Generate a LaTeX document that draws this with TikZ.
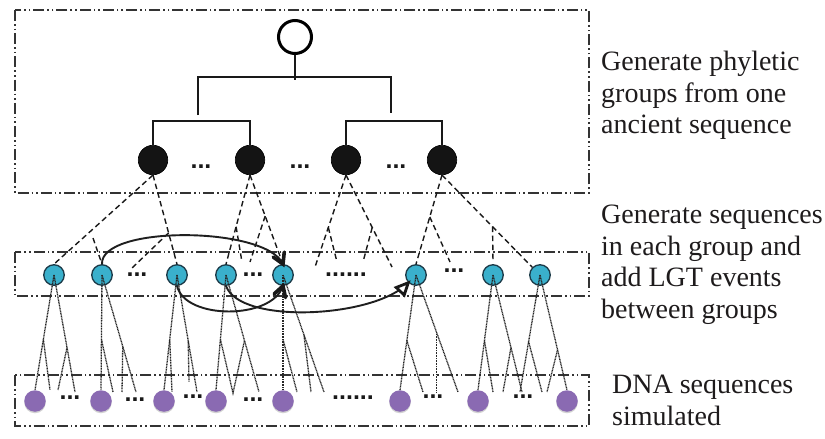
\documentclass[tikz,border=0pt]{standalone}
\usepackage{fontspec}
\setmainfont{Liberation Serif}
\newfontfamily\dotfont{Liberation Sans}
\usetikzlibrary{calc,shadows}
\definecolor{cyanball}{RGB}{58,176,204}
\definecolor{cyanedge}{RGB}{28,58,72}
\definecolor{purpleball}{RGB}{138,106,178}
\definecolor{inkgray}{RGB}{30,27,28}
\begin{document}
\begin{tikzpicture}[x=1pt,y=-1pt,
  frame/.style={draw=black!80,line width=1.5pt,
    dash pattern=on 11pt off 3pt on 1.6pt off 3pt on 1.6pt off 3pt},
  rootball/.style={circle,draw=black,line width=3pt,minimum size=33pt,inner sep=0pt},
  blackball/.style={circle,fill=black!92,draw=black,line width=0.6pt,minimum size=29.5pt,inner sep=0pt},
  seqball/.style={circle,fill=cyanball,draw=cyanedge,line width=1.3pt,minimum size=20.5pt,inner sep=0pt},
  dnaball/.style={circle,fill=purpleball,minimum size=21.5pt,inner sep=0pt,
    drop shadow={opacity=0.35,shadow xshift=0pt,shadow yshift=-1.5pt}},
  treeline/.style={line width=1.4pt,draw=black!90},
  groupline/.style={line width=1.4pt,draw=black!90,dash pattern=on 5.5pt off 3.5pt},
  seqline/.style={line width=1.3pt,draw=black!85,dash pattern=on 1pt off 0.6pt},
  lgt/.style={line width=1.9pt,draw=black!88},
  barbstroke/.style={line width=3.6pt,line cap=round,line join=miter,draw=black!90},
  openstroke/.style={line width=2.8pt,line join=miter,draw=black!90,fill=white},
  ellipsisdots/.style={font=\dotfont\bfseries\fontsize{25}{25}\selectfont,inner sep=0pt,text=black!90},
  caption/.style={font=\fontsize{28}{31.5}\selectfont,text=inkgray,inner sep=0pt,anchor=base west}
]
\fill[white] (0,0) rectangle (825,439);

% stage frames
\draw[frame] (15,10) rectangle (589,193);
\draw[frame] (15,252) rectangle (589,296);
\draw[frame] (15,375) rectangle (589,426);

% ancient sequence and phyletic groups
\node[rootball] (root) at (295,37) {};
\node[blackball] (g1) at (153,160) {};
\node[blackball] (g2) at (250,160) {};
\node[blackball] (g3) at (346,160) {};
\node[blackball] (g4) at (442,160) {};

\coordinate (rootjoin) at (295,80);
\coordinate (hl) at (198,77);
\coordinate (hr) at (391,77);
\coordinate (vl) at (198,115);
\coordinate (vr) at (391,113);
\draw[treeline] (root.south) -- (rootjoin);
\draw[treeline] (vl) -- (hl) -- (hr) -- (vr);
\draw[treeline] (g1.north) -- ++(0,-24) -| (g2.north);
\draw[treeline] (g3.north) -- ++(0,-24) -| (g4.north);

\node[ellipsisdots] (d1) at (201,167) {...};
\node[ellipsisdots] (d2) at (300,167) {...};
\node[ellipsisdots] (d3) at (396,167) {...};

% sequences within groups
\node[seqball] (c1) at (54,275) {};
\node[seqball] (c2) at (102,275) {};
\node[seqball] (c3) at (177,275) {};
\node[seqball] (c4) at (226,275) {};
\node[seqball] (c5) at (283,275) {};
\node[seqball] (c6) at (416,275) {};
\node[seqball] (c7) at (493,275) {};
\node[seqball] (c8) at (540,275) {};

\node[ellipsisdots] (m1) at (137,275) {...};
\node[ellipsisdots] (m2) at (253,275) {...};
\node[ellipsisdots] (m3) at (346,275) {......};
\node[ellipsisdots] (m4) at (454,271) {...};

% group subtrees (dashed)
\coordinate (a1) at (130,270);
\coordinate (a2) at (93,238);
\coordinate (a3) at (242,262);
\coordinate (a4) at (250,262);
\coordinate (a5) at (315,267);
\coordinate (a6) at (392,267);
\coordinate (a7) at (337,262);
\coordinate (a8) at (363,262);
\coordinate (a9) at (450,262);
\coordinate (a10) at (493,262);
\draw[groupline] (g1.south) -- (c1.north);
\draw[groupline] (g1.south) -- (c3.north);
\draw[groupline] ($(g1.south)!0.65!(c3.north)$) -- (a1);
\draw[groupline] (a2) -- (c2.north);
\draw[groupline] (g2.south) -- (c4.north);
\draw[groupline] (g2.south) -- (c5.north);
\draw[groupline] ($(g2.south)!0.58!(c4.north)$) -- (a3);
\draw[groupline] ($(g2.south)!0.46!(c5.north)$) -- (a4);
\draw[groupline] (g3.south) -- (a5);
\draw[groupline] (g3.south) -- (a6);
\draw[groupline] ($(g3.south)!0.57!(a5)$) -- (a7);
\draw[groupline] ($(g3.south)!0.57!(a6)$) -- (a8);
\draw[groupline] (g4.south) -- (c6.north);
\draw[groupline] (g4.south) -- (c8.north west);
\draw[groupline] ($(g4.south)!0.47!(c6.north)$) -- (a9);
\draw[groupline] ($(g4.south)!0.56!(c8.north west)$) -- (a10);

% simulated DNA sequences
\node[dnaball] (p1) at (35,401) {};
\node[dnaball] (p2) at (101,401) {};
\node[dnaball] (p3) at (164,401) {};
\node[dnaball] (p4) at (216,401) {};
\node[dnaball] (p5) at (283,401) {};
\node[dnaball] (p6) at (400,401) {};
\node[dnaball] (p7) at (478,401) {};
\node[dnaball] (p8) at (567,401) {};

\node[ellipsisdots] (b1) at (70,398) {...};
\node[ellipsisdots] (b2) at (135,400) {...};
\node[ellipsisdots] (b3) at (193,397) {...};
\node[ellipsisdots] (b4) at (253,400) {...};
\node[ellipsisdots] (b5) at (353,398) {......};
\node[ellipsisdots] (b6) at (433,397) {...};
\node[ellipsisdots] (b7) at (523,397) {...};

% sequence subtrees (dotted)
\coordinate (e1) at (75,392);   \coordinate (e2) at (50,390);   \coordinate (e3) at (58,390);
\draw[seqline] (c1.center) -- (p1.north);
\draw[seqline] (c1.center) -- (e1);
\draw[seqline] ($(c1.center)!0.56!(p1.north)$) -- (e2);
\draw[seqline] ($(c1.center)!0.62!(e1)$) -- (e3);

\coordinate (e4) at (136,392);  \coordinate (e5) at (113,392);  \coordinate (e6) at (122,392);
\draw[seqline] (c2.center) -- (p2.north);
\draw[seqline] (c2.center) -- (e4);
\draw[seqline] ($(c2.center)!0.56!(p2.north)$) -- (e5);
\draw[seqline] ($(c2.center)!0.61!(e4)$) -- (e6);

\coordinate (e7) at (197,392);  \coordinate (e8) at (172,392);  \coordinate (e9) at (189,382);
\draw[seqline] (c3.center) -- (p3.north);
\draw[seqline] (c3.center) -- (e7);
\draw[seqline] ($(c3.center)!0.56!(p3.north)$) -- (e8);
\draw[seqline] ($(c3.center)!0.56!(e7)$) -- (e9);

\coordinate (e10) at (259,392); \coordinate (e11) at (233,393);
\draw[seqline] (c4.center) -- (p4.north);
\draw[seqline] (c4.center) -- (e10);
\draw[seqline] ($(c4.center)!0.56!(p4.north)$) -- (e11) -- ($(c4.center)!0.56!(e10)$);

\coordinate (e12) at (324,392); \coordinate (e13) at (297,392); \coordinate (e14) at (311,392);
\draw[seqline] (c5.center) -- (p5.north);
\draw[seqline] (c5.center) -- (e12);
\draw[seqline] ($(c5.center)!0.56!(p5.north)$) -- (e13);
\draw[seqline] ($(c5.center)!0.51!(e12)$) -- (e14);

\coordinate (e15) at (458,392); \coordinate (e16) at (423,392);
\draw[seqline] (c6.center) -- (p6.north);
\draw[seqline] (c6.center) -- (e15);
\draw[seqline] ($(c6.center)!0.57!(p6.north)$) -- (e16);
\draw[seqline] ($(c6.center)!0.49!(e15)$) -- ++(0,60);

\coordinate (e17) at (522,392); \coordinate (e18) at (493,392); \coordinate (e19) at (503,392);
\draw[seqline] (c7.center) -- (p7.north);
\draw[seqline] (c7.center) -- (e17);
\draw[seqline] ($(c7.center)!0.57!(p7.north)$) -- (e18);
\draw[seqline] ($(c7.center)!0.62!(e17)$) -- (e19);

\coordinate (e20) at (520,392); \coordinate (e21) at (542,392); \coordinate (e22) at (547,392);
\draw[seqline] (c8.center) -- (e20);
\draw[seqline] (c8.center) -- (p8.north);
\draw[seqline] ($(c8.center)!0.57!(e20)$) -- (e21);
\draw[seqline] ($(c8.center)!0.65!(p8.north)$) -- (e22);

% lateral gene transfer events
\coordinate (k1) at (266,226);
\coordinate (k2) at (272,320);
\coordinate (k3) at (375,318);
\draw[lgt] (c2.north) .. controls (100,225) and (k1) .. (c5.north);
\draw[lgt] (c3.south) .. controls (185,320) and (k2) .. (c5.south);
\draw[lgt] (c4.south) .. controls (240,325) and (k3) .. (c6.south west);
% their heads
\draw[barbstroke] ($(c5.north)!12pt!30:(k1)$) -- (c5.north) -- ($(c5.north)!12pt!-30:(k1)$);
\draw[barbstroke] ($(c5.south)!12pt!30:(k2)$) -- (c5.south) -- ($(c5.south)!12pt!-30:(k2)$);
\draw[openstroke] (c6.south west) -- ($(c6.south west)!13pt!25:(k3)$)
  -- ($(c6.south west)!13pt!-25:(k3)$) -- cycle;

% stage descriptions
\node[caption] (t1) at (601,70.5) {Generate phyletic};
\node[caption] (t2) at (601,102) {groups from one};
\node[caption] (t3) at (601,133.5) {ancient sequence};
\node[caption] (t4) at (601,223.5) {Generate sequences};
\node[caption] (t5) at (601,255) {in each group and};
\node[caption] (t6) at (601,286.5) {add LGT events};
\node[caption] (t7) at (601,318) {between groups};
\node[caption] (t8) at (612,393.5) {DNA sequences};
\node[caption] (t9) at (612,425) {simulated};
\end{tikzpicture}
\end{document}
